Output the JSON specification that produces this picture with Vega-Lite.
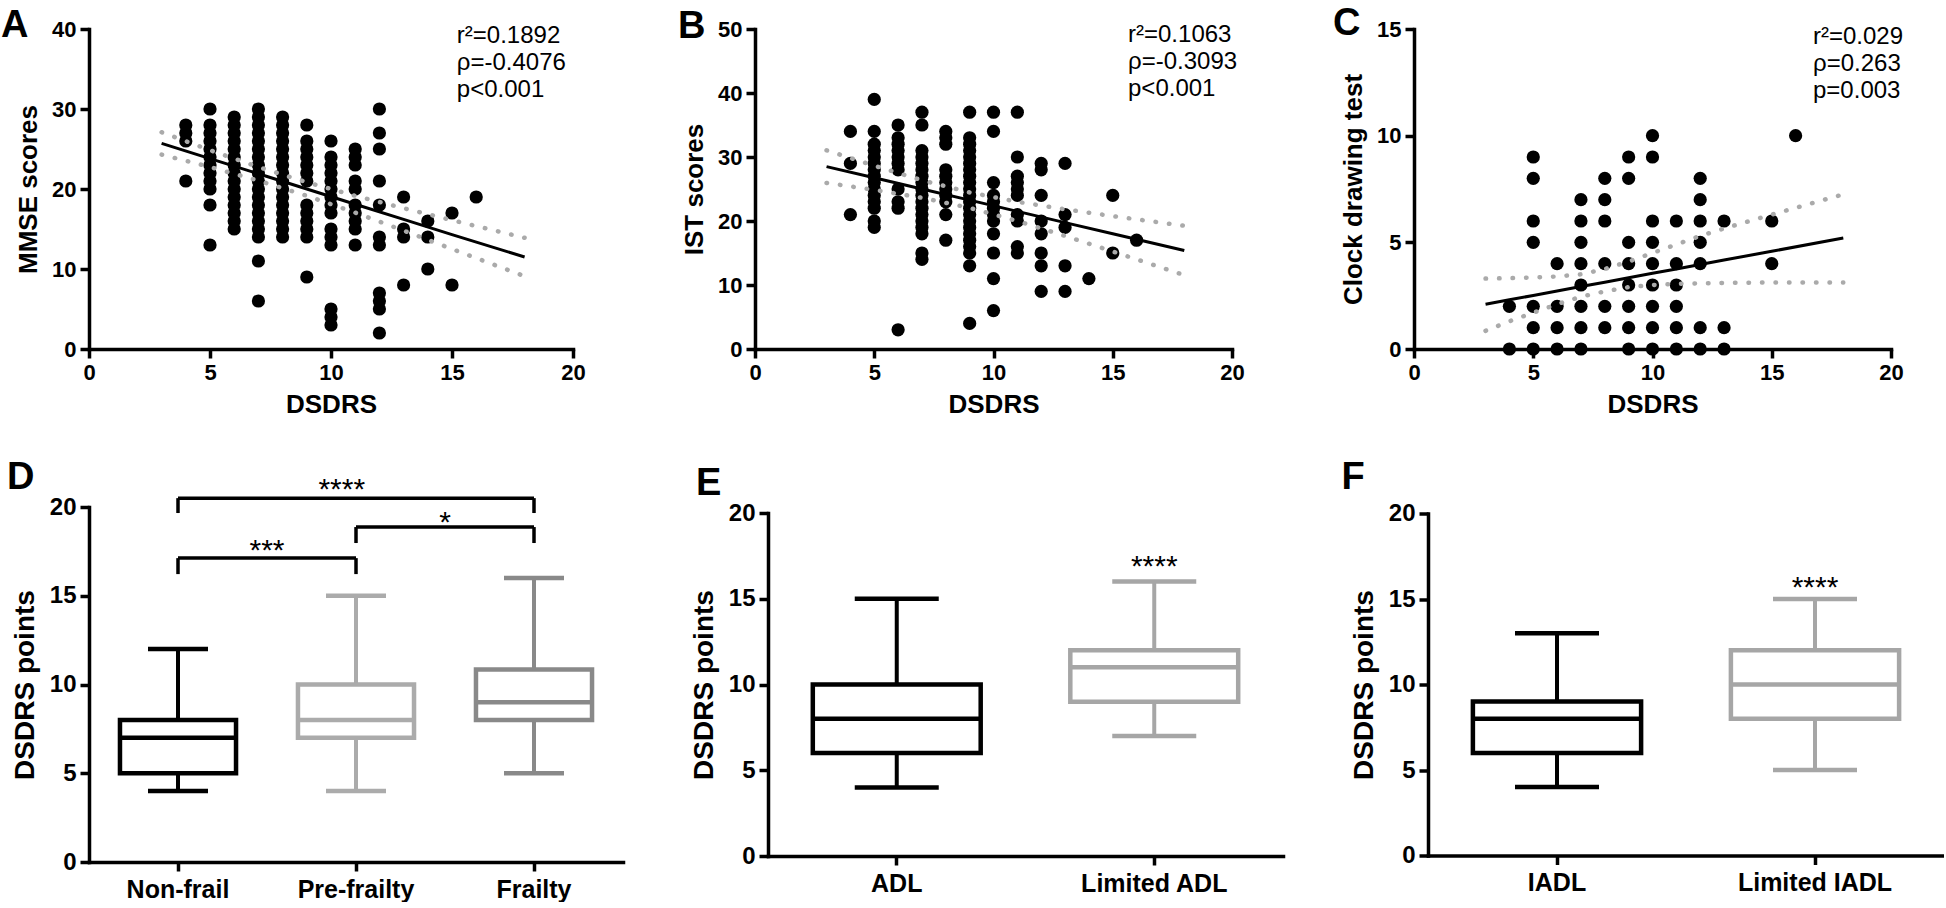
{
  "$schema": "https://vega.github.io/schema/vega-lite/v6.json",
  "background": "white",
  "padding": {"left": 0, "top": 5, "right": 0, "bottom": 0},
  "config": {
    "view": {"stroke": null},
    "font": "Liberation Sans",
    "text": {"color": "black", "font": "Liberation Sans"},
    "tick": {"opacity": 1},
    "axis": {
      "domainColor": "black", "domainWidth": 3.5, "domainCap": "square",
      "tickColor": "black", "tickWidth": 3.5, "tickSize": 9, "grid": false,
      "labelColor": "black", "labelFont": "Liberation Sans", "labelFontWeight": "bold", "labelFontSize": 22, "labelPadding": 4,
      "labelFlush": false, "labelOverlap": false,
      "titleColor": "black", "titleFont": "Liberation Sans", "titleFontWeight": "bold", "titleFontSize": 26, "titlePadding": 10
    }
  },
  "datasets": {
    "A": [
      {"DSDRS":4,"score":28},{"DSDRS":4,"score":27},{"DSDRS":4,"score":26},{"DSDRS":4,"score":21},
      {"DSDRS":5,"score":30},{"DSDRS":5,"score":28},{"DSDRS":5,"score":27},{"DSDRS":5,"score":26},{"DSDRS":5,"score":25},{"DSDRS":5,"score":24},{"DSDRS":5,"score":23},{"DSDRS":5,"score":22},{"DSDRS":5,"score":21},{"DSDRS":5,"score":20},{"DSDRS":5,"score":18},{"DSDRS":5,"score":13},
      {"DSDRS":6,"score":29},{"DSDRS":6,"score":28},{"DSDRS":6,"score":27},{"DSDRS":6,"score":26},{"DSDRS":6,"score":25},{"DSDRS":6,"score":24},{"DSDRS":6,"score":23},{"DSDRS":6,"score":22},{"DSDRS":6,"score":21},{"DSDRS":6,"score":20},{"DSDRS":6,"score":19},{"DSDRS":6,"score":18},{"DSDRS":6,"score":17},{"DSDRS":6,"score":16},{"DSDRS":6,"score":15},
      {"DSDRS":7,"score":30},{"DSDRS":7,"score":29},{"DSDRS":7,"score":28},{"DSDRS":7,"score":27},{"DSDRS":7,"score":26},{"DSDRS":7,"score":25},{"DSDRS":7,"score":24},{"DSDRS":7,"score":23},{"DSDRS":7,"score":22},{"DSDRS":7,"score":21},{"DSDRS":7,"score":20},{"DSDRS":7,"score":19},{"DSDRS":7,"score":18},{"DSDRS":7,"score":17},{"DSDRS":7,"score":16},{"DSDRS":7,"score":15},{"DSDRS":7,"score":14},{"DSDRS":7,"score":11},{"DSDRS":7,"score":6},
      {"DSDRS":8,"score":29},{"DSDRS":8,"score":28},{"DSDRS":8,"score":27},{"DSDRS":8,"score":26},{"DSDRS":8,"score":25},{"DSDRS":8,"score":24},{"DSDRS":8,"score":23},{"DSDRS":8,"score":22},{"DSDRS":8,"score":21},{"DSDRS":8,"score":20},{"DSDRS":8,"score":19},{"DSDRS":8,"score":18},{"DSDRS":8,"score":17},{"DSDRS":8,"score":16},{"DSDRS":8,"score":15},{"DSDRS":8,"score":14},
      {"DSDRS":9,"score":28},{"DSDRS":9,"score":26},{"DSDRS":9,"score":25},{"DSDRS":9,"score":24},{"DSDRS":9,"score":23},{"DSDRS":9,"score":22},{"DSDRS":9,"score":21},{"DSDRS":9,"score":18},{"DSDRS":9,"score":17},{"DSDRS":9,"score":16},{"DSDRS":9,"score":15},{"DSDRS":9,"score":14},{"DSDRS":9,"score":9},
      {"DSDRS":10,"score":26},{"DSDRS":10,"score":24},{"DSDRS":10,"score":23},{"DSDRS":10,"score":22},{"DSDRS":10,"score":21},{"DSDRS":10,"score":20},{"DSDRS":10,"score":19},{"DSDRS":10,"score":18},{"DSDRS":10,"score":17},{"DSDRS":10,"score":15},{"DSDRS":10,"score":14},{"DSDRS":10,"score":13},{"DSDRS":10,"score":5},{"DSDRS":10,"score":4},{"DSDRS":10,"score":3},
      {"DSDRS":11,"score":25},{"DSDRS":11,"score":24},{"DSDRS":11,"score":23},{"DSDRS":11,"score":21},{"DSDRS":11,"score":20},{"DSDRS":11,"score":18},{"DSDRS":11,"score":17},{"DSDRS":11,"score":16},{"DSDRS":11,"score":15},{"DSDRS":11,"score":13},
      {"DSDRS":12,"score":30},{"DSDRS":12,"score":27},{"DSDRS":12,"score":25},{"DSDRS":12,"score":21},{"DSDRS":12,"score":18},{"DSDRS":12,"score":14},{"DSDRS":12,"score":13},{"DSDRS":12,"score":7},{"DSDRS":12,"score":6},{"DSDRS":12,"score":5},{"DSDRS":12,"score":2},
      {"DSDRS":13,"score":19},{"DSDRS":13,"score":15},{"DSDRS":13,"score":14},{"DSDRS":13,"score":8},
      {"DSDRS":14,"score":16},{"DSDRS":14,"score":14},{"DSDRS":14,"score":10},
      {"DSDRS":15,"score":17},{"DSDRS":15,"score":8},
      {"DSDRS":16,"score":19}
    ],
    "B": [
      {"DSDRS":4,"score":34},{"DSDRS":4,"score":29},{"DSDRS":4,"score":21},
      {"DSDRS":5,"score":39},{"DSDRS":5,"score":34},{"DSDRS":5,"score":32},{"DSDRS":5,"score":31},{"DSDRS":5,"score":30},{"DSDRS":5,"score":29},{"DSDRS":5,"score":28},{"DSDRS":5,"score":27},{"DSDRS":5,"score":26},{"DSDRS":5,"score":25},{"DSDRS":5,"score":24},{"DSDRS":5,"score":23},{"DSDRS":5,"score":22},{"DSDRS":5,"score":20},{"DSDRS":5,"score":19},
      {"DSDRS":6,"score":35},{"DSDRS":6,"score":33},{"DSDRS":6,"score":32},{"DSDRS":6,"score":31},{"DSDRS":6,"score":30},{"DSDRS":6,"score":29},{"DSDRS":6,"score":28},{"DSDRS":6,"score":25},{"DSDRS":6,"score":23},{"DSDRS":6,"score":22},{"DSDRS":6,"score":3},
      {"DSDRS":7,"score":37},{"DSDRS":7,"score":35},{"DSDRS":7,"score":31},{"DSDRS":7,"score":30},{"DSDRS":7,"score":29},{"DSDRS":7,"score":28},{"DSDRS":7,"score":27},{"DSDRS":7,"score":26},{"DSDRS":7,"score":25},{"DSDRS":7,"score":24},{"DSDRS":7,"score":23},{"DSDRS":7,"score":22},{"DSDRS":7,"score":21},{"DSDRS":7,"score":20},{"DSDRS":7,"score":19},{"DSDRS":7,"score":18},{"DSDRS":7,"score":15},{"DSDRS":7,"score":14},
      {"DSDRS":8,"score":34},{"DSDRS":8,"score":33},{"DSDRS":8,"score":32},{"DSDRS":8,"score":28},{"DSDRS":8,"score":27},{"DSDRS":8,"score":26},{"DSDRS":8,"score":25},{"DSDRS":8,"score":24},{"DSDRS":8,"score":23},{"DSDRS":8,"score":21},{"DSDRS":8,"score":17},
      {"DSDRS":9,"score":37},{"DSDRS":9,"score":33},{"DSDRS":9,"score":32},{"DSDRS":9,"score":31},{"DSDRS":9,"score":30},{"DSDRS":9,"score":29},{"DSDRS":9,"score":28},{"DSDRS":9,"score":27},{"DSDRS":9,"score":26},{"DSDRS":9,"score":25},{"DSDRS":9,"score":24},{"DSDRS":9,"score":23},{"DSDRS":9,"score":22},{"DSDRS":9,"score":21},{"DSDRS":9,"score":20},{"DSDRS":9,"score":19},{"DSDRS":9,"score":18},{"DSDRS":9,"score":17},{"DSDRS":9,"score":16},{"DSDRS":9,"score":15},{"DSDRS":9,"score":13},{"DSDRS":9,"score":4},
      {"DSDRS":10,"score":37},{"DSDRS":10,"score":34},{"DSDRS":10,"score":26},{"DSDRS":10,"score":24},{"DSDRS":10,"score":23},{"DSDRS":10,"score":22},{"DSDRS":10,"score":21},{"DSDRS":10,"score":20},{"DSDRS":10,"score":18},{"DSDRS":10,"score":15},{"DSDRS":10,"score":11},{"DSDRS":10,"score":6},
      {"DSDRS":11,"score":37},{"DSDRS":11,"score":30},{"DSDRS":11,"score":27},{"DSDRS":11,"score":26},{"DSDRS":11,"score":25},{"DSDRS":11,"score":24},{"DSDRS":11,"score":21},{"DSDRS":11,"score":20},{"DSDRS":11,"score":16},{"DSDRS":11,"score":15},
      {"DSDRS":12,"score":29},{"DSDRS":12,"score":28},{"DSDRS":12,"score":24},{"DSDRS":12,"score":20},{"DSDRS":12,"score":18},{"DSDRS":12,"score":15},{"DSDRS":12,"score":13},{"DSDRS":12,"score":9},
      {"DSDRS":13,"score":29},{"DSDRS":13,"score":21},{"DSDRS":13,"score":19},{"DSDRS":13,"score":13},{"DSDRS":13,"score":9},
      {"DSDRS":14,"score":11},
      {"DSDRS":15,"score":24},{"DSDRS":15,"score":15},
      {"DSDRS":16,"score":17}
    ],
    "C": [
      {"DSDRS":4,"score":2},{"DSDRS":4,"score":0},
      {"DSDRS":5,"score":9},{"DSDRS":5,"score":8},{"DSDRS":5,"score":6},{"DSDRS":5,"score":5},{"DSDRS":5,"score":2},{"DSDRS":5,"score":1},{"DSDRS":5,"score":0},
      {"DSDRS":6,"score":4},{"DSDRS":6,"score":2},{"DSDRS":6,"score":1},{"DSDRS":6,"score":0},
      {"DSDRS":7,"score":7},{"DSDRS":7,"score":6},{"DSDRS":7,"score":5},{"DSDRS":7,"score":4},{"DSDRS":7,"score":3},{"DSDRS":7,"score":2},{"DSDRS":7,"score":1},{"DSDRS":7,"score":0},
      {"DSDRS":8,"score":8},{"DSDRS":8,"score":7},{"DSDRS":8,"score":6},{"DSDRS":8,"score":4},{"DSDRS":8,"score":2},{"DSDRS":8,"score":1},
      {"DSDRS":9,"score":9},{"DSDRS":9,"score":8},{"DSDRS":9,"score":5},{"DSDRS":9,"score":4},{"DSDRS":9,"score":3},{"DSDRS":9,"score":2},{"DSDRS":9,"score":1},{"DSDRS":9,"score":0},
      {"DSDRS":10,"score":10},{"DSDRS":10,"score":9},{"DSDRS":10,"score":6},{"DSDRS":10,"score":5},{"DSDRS":10,"score":4},{"DSDRS":10,"score":3},{"DSDRS":10,"score":2},{"DSDRS":10,"score":1},{"DSDRS":10,"score":0},
      {"DSDRS":11,"score":6},{"DSDRS":11,"score":4},{"DSDRS":11,"score":3},{"DSDRS":11,"score":2},{"DSDRS":11,"score":1},{"DSDRS":11,"score":0},
      {"DSDRS":12,"score":8},{"DSDRS":12,"score":7},{"DSDRS":12,"score":6},{"DSDRS":12,"score":5},{"DSDRS":12,"score":4},{"DSDRS":12,"score":1},{"DSDRS":12,"score":0},
      {"DSDRS":13,"score":6},{"DSDRS":13,"score":1},{"DSDRS":13,"score":0},
      {"DSDRS":15,"score":6},{"DSDRS":15,"score":4},
      {"DSDRS":16,"score":10}
    ],
    "fitA": [
      {"DSDRS":3,"fit":25.7,"upper":27.1,"lower":24.3},
      {"DSDRS":5,"fit":23.8,"upper":24.85,"lower":22.75},
      {"DSDRS":7,"fit":21.9,"upper":22.75,"lower":21.05},
      {"DSDRS":9,"fit":20.0,"upper":20.85,"lower":19.15},
      {"DSDRS":11,"fit":18.1,"upper":19.15,"lower":17.05},
      {"DSDRS":13,"fit":16.2,"upper":17.6,"lower":14.8},
      {"DSDRS":15,"fit":14.3,"upper":16.1,"lower":12.5},
      {"DSDRS":18,"fit":11.5,"upper":13.9,"lower":9.1}
    ],
    "fitB": [
      {"DSDRS":3,"fit":28.5,"upper":31.05,"lower":25.95},
      {"DSDRS":5,"fit":26.75,"upper":28.64,"lower":24.86},
      {"DSDRS":7,"fit":25.0,"upper":26.37,"lower":23.63},
      {"DSDRS":9,"fit":23.26,"upper":24.47,"lower":22.05},
      {"DSDRS":11,"fit":21.5,"upper":23.0,"lower":20.0},
      {"DSDRS":13,"fit":19.75,"upper":21.83,"lower":17.67},
      {"DSDRS":15,"fit":18.0,"upper":20.76,"lower":15.24},
      {"DSDRS":18,"fit":15.4,"upper":19.26,"lower":11.54}
    ],
    "fitC": [
      {"DSDRS":3,"fit":2.1,"upper":3.3,"lower":0.85},
      {"DSDRS":4,"fit":2.31,"upper":3.32,"lower":1.3},
      {"DSDRS":5,"fit":2.51,"upper":3.35,"lower":1.7},
      {"DSDRS":6,"fit":2.72,"upper":3.4,"lower":2.1},
      {"DSDRS":7,"fit":2.93,"upper":3.5,"lower":2.45},
      {"DSDRS":8,"fit":3.13,"upper":3.75,"lower":2.7},
      {"DSDRS":9,"fit":3.34,"upper":4.1,"lower":2.9},
      {"DSDRS":10,"fit":3.55,"upper":4.5,"lower":3.0},
      {"DSDRS":11,"fit":3.75,"upper":4.9,"lower":3.05},
      {"DSDRS":12,"fit":3.96,"upper":5.3,"lower":3.08},
      {"DSDRS":13,"fit":4.17,"upper":5.65,"lower":3.1},
      {"DSDRS":15,"fit":4.58,"upper":6.3,"lower":3.12},
      {"DSDRS":18,"fit":5.2,"upper":7.25,"lower":3.12}
    ],
    "D": [
      {"group":"Non-frail","min":4,"q1":5,"median":7,"q3":8,"max":12},
      {"group":"Pre-frailty","min":4,"q1":7,"median":8,"q3":10,"max":15},
      {"group":"Frailty","min":5,"q1":8,"median":9,"q3":10.85,"max":16}
    ],
    "E": [
      {"group":"ADL","min":4,"q1":6,"median":8,"q3":10,"max":15},
      {"group":"Limited ADL","min":7,"q1":9,"median":11,"q3":12,"max":16}
    ],
    "F": [
      {"group":"IADL","min":4,"q1":6,"median":8,"q3":9,"max":13},
      {"group":"Limited IADL","min":5,"q1":8,"median":10,"q3":12,"max":15}
    ]
  },
  "spacing": 41,
  "bounds": "full",
  "resolve": {"scale": {"color": "independent", "stroke": "independent"}},
  "vconcat": [
    {
      "hconcat": [
        {
          "width": 484, "height": 320,
          "layer": [
            {"data": {"name": "A"}, "mark": {"type": "point", "filled": true, "size": 175, "color": "black", "opacity": 1},
             "encoding": {
               "x": {"field": "DSDRS", "type": "quantitative", "scale": {"domain": [0, 20], "nice": false}, "axis": {"values": [0, 5, 10, 15, 20], "title": "DSDRS", "titlePadding": 8}},
               "y": {"field": "score", "type": "quantitative", "scale": {"domain": [0, 40], "nice": false}, "axis": {"values": [0, 10, 20, 30, 40], "title": "MMSE scores"}}}},
            {"data": {"name": "fitA"}, "mark": {"type": "line", "color": "#aaaaaa", "strokeWidth": 4.5, "strokeDash": [0.5, 13], "strokeCap": "round"},
             "encoding": {"x": {"field": "DSDRS", "type": "quantitative"}, "y": {"field": "upper", "type": "quantitative"}}},
            {"data": {"name": "fitA"}, "mark": {"type": "line", "color": "#aaaaaa", "strokeWidth": 4.5, "strokeDash": [0.5, 13], "strokeCap": "round"},
             "encoding": {"x": {"field": "DSDRS", "type": "quantitative"}, "y": {"field": "lower", "type": "quantitative"}}},
            {"data": {"name": "fitA"}, "mark": {"type": "line", "color": "black", "strokeWidth": 3},
             "encoding": {"x": {"field": "DSDRS", "type": "quantitative"}, "y": {"field": "fit", "type": "quantitative"}}},
            {"data": {"values": [{}]}, "mark": {"type": "text", "align": "left", "baseline": "alphabetic", "fontSize": 24, "text": "r²=0.1892"},
             "encoding": {"x": {"datum": 15.2}, "y": {"datum": 38.25}}},
            {"data": {"values": [{}]}, "mark": {"type": "text", "align": "left", "baseline": "alphabetic", "fontSize": 24, "text": "ρ=-0.4076"},
             "encoding": {"x": {"datum": 15.2}, "y": {"datum": 34.87}}},
            {"data": {"values": [{}]}, "mark": {"type": "text", "align": "left", "baseline": "alphabetic", "fontSize": 24, "text": "p<0.001"},
             "encoding": {"x": {"datum": 15.2}, "y": {"datum": 31.5}}},
            {"data": {"values": [{}]}, "mark": {"type": "text", "align": "left", "baseline": "alphabetic", "fontSize": 38, "fontWeight": "bold", "text": "A"},
             "encoding": {"x": {"datum": -3.64}, "y": {"datum": 39}}}
          ]
        },
        {
          "width": 477, "height": 320,
          "layer": [
            {"data": {"name": "B"}, "mark": {"type": "point", "filled": true, "size": 175, "color": "black", "opacity": 1},
             "encoding": {
               "x": {"field": "DSDRS", "type": "quantitative", "scale": {"domain": [0, 20], "nice": false}, "axis": {"values": [0, 5, 10, 15, 20], "title": "DSDRS", "titlePadding": 8}},
               "y": {"field": "score", "type": "quantitative", "scale": {"domain": [0, 50], "nice": false}, "axis": {"values": [0, 10, 20, 30, 40, 50], "title": "IST scores"}}}},
            {"data": {"name": "fitB"}, "mark": {"type": "line", "color": "#aaaaaa", "strokeWidth": 4.5, "strokeDash": [0.5, 13], "strokeCap": "round"},
             "encoding": {"x": {"field": "DSDRS", "type": "quantitative"}, "y": {"field": "upper", "type": "quantitative"}}},
            {"data": {"name": "fitB"}, "mark": {"type": "line", "color": "#aaaaaa", "strokeWidth": 4.5, "strokeDash": [0.5, 13], "strokeCap": "round"},
             "encoding": {"x": {"field": "DSDRS", "type": "quantitative"}, "y": {"field": "lower", "type": "quantitative"}}},
            {"data": {"name": "fitB"}, "mark": {"type": "line", "color": "black", "strokeWidth": 3},
             "encoding": {"x": {"field": "DSDRS", "type": "quantitative"}, "y": {"field": "fit", "type": "quantitative"}}},
            {"data": {"values": [{}]}, "mark": {"type": "text", "align": "left", "baseline": "alphabetic", "fontSize": 24, "text": "r²=0.1063"},
             "encoding": {"x": {"datum": 15.64}, "y": {"datum": 47.9}}},
            {"data": {"values": [{}]}, "mark": {"type": "text", "align": "left", "baseline": "alphabetic", "fontSize": 24, "text": "ρ=-0.3093"},
             "encoding": {"x": {"datum": 15.64}, "y": {"datum": 43.68}}},
            {"data": {"values": [{}]}, "mark": {"type": "text", "align": "left", "baseline": "alphabetic", "fontSize": 24, "text": "p<0.001"},
             "encoding": {"x": {"datum": 15.64}, "y": {"datum": 39.46}}},
            {"data": {"values": [{}]}, "mark": {"type": "text", "align": "left", "baseline": "alphabetic", "fontSize": 38, "fontWeight": "bold", "text": "B"},
             "encoding": {"x": {"datum": -3.23}, "y": {"datum": 48.6}}}
          ]
        },
        {
          "width": 477, "height": 320,
          "layer": [
            {"data": {"name": "C"}, "mark": {"type": "point", "filled": true, "size": 175, "color": "black", "opacity": 1},
             "encoding": {
               "x": {"field": "DSDRS", "type": "quantitative", "scale": {"domain": [0, 20], "nice": false}, "axis": {"values": [0, 5, 10, 15, 20], "title": "DSDRS", "titlePadding": 8}},
               "y": {"field": "score", "type": "quantitative", "scale": {"domain": [0, 15], "nice": false}, "axis": {"values": [0, 5, 10, 15], "title": "Clock drawing test"}}}},
            {"data": {"name": "fitC"}, "mark": {"type": "line", "color": "#aaaaaa", "strokeWidth": 4.5, "strokeDash": [0.5, 13], "strokeCap": "round"},
             "encoding": {"x": {"field": "DSDRS", "type": "quantitative"}, "y": {"field": "upper", "type": "quantitative"}}},
            {"data": {"name": "fitC"}, "mark": {"type": "line", "color": "#aaaaaa", "strokeWidth": 4.5, "strokeDash": [0.5, 13], "strokeCap": "round"},
             "encoding": {"x": {"field": "DSDRS", "type": "quantitative"}, "y": {"field": "lower", "type": "quantitative"}}},
            {"data": {"name": "fitC"}, "mark": {"type": "line", "color": "black", "strokeWidth": 3},
             "encoding": {"x": {"field": "DSDRS", "type": "quantitative"}, "y": {"field": "fit", "type": "quantitative"}}},
            {"data": {"values": [{}]}, "mark": {"type": "text", "align": "left", "baseline": "alphabetic", "fontSize": 24, "text": "r²=0.029"},
             "encoding": {"x": {"datum": 16.73}, "y": {"datum": 14.29}}},
            {"data": {"values": [{}]}, "mark": {"type": "text", "align": "left", "baseline": "alphabetic", "fontSize": 24, "text": "ρ=0.263"},
             "encoding": {"x": {"datum": 16.73}, "y": {"datum": 13.02}}},
            {"data": {"values": [{}]}, "mark": {"type": "text", "align": "left", "baseline": "alphabetic", "fontSize": 24, "text": "p=0.003"},
             "encoding": {"x": {"datum": 16.73}, "y": {"datum": 11.76}}},
            {"data": {"values": [{}]}, "mark": {"type": "text", "align": "left", "baseline": "alphabetic", "fontSize": 38, "fontWeight": "bold", "text": "C"},
             "encoding": {"x": {"datum": -3.4}, "y": {"datum": 14.7}}}
          ]
        }
      ],
      "spacing": 182,
      "bounds": "flush"
    },
    {
      "hconcat": [
        {
          "width": 534, "height": 355,
          "layer": [
            {"data": {"name": "D"}, "mark": {"type": "rule", "strokeWidth": 4},
             "encoding": {
               "x": {"field": "group", "type": "nominal", "scale": {"domain": ["Non-frail", "Pre-frailty", "Frailty"], "paddingInner": 0, "paddingOuter": 0}, "axis": {"title": null, "labelFontSize": 25, "labelAngle": 0, "labelPadding": 6}},
               "y": {"field": "min", "type": "quantitative", "scale": {"domain": [0, 20], "nice": false}, "axis": {"values": [0, 5, 10, 15, 20], "title": "DSDRS points", "labelFontSize": 24, "titleFontSize": 28, "titlePadding": 10}},
               "y2": {"field": "max"},
               "color": {"field": "group", "type": "nominal", "scale": {"domain": ["Non-frail", "Pre-frailty", "Frailty"], "range": ["#000000", "#ababab", "#898989"]}, "legend": null}}},
            {"data": {"name": "D"}, "mark": {"type": "bar", "width": {"band": 0.652}, "fill": "white", "strokeWidth": 4.5},
             "encoding": {
               "x": {"field": "group", "type": "nominal"},
               "y": {"field": "q1", "type": "quantitative"}, "y2": {"field": "q3"},
               "stroke": {"field": "group", "type": "nominal", "scale": {"domain": ["Non-frail", "Pre-frailty", "Frailty"], "range": ["#000000", "#ababab", "#898989"]}, "legend": null}}},
            {"data": {"name": "D"}, "mark": {"type": "tick", "size": 118, "thickness": 4.5, "opacity": 1},
             "encoding": {"x": {"field": "group", "type": "nominal"}, "y": {"field": "median", "type": "quantitative"}, "color": {"field": "group", "type": "nominal", "legend": null}}},
            {"data": {"name": "D"}, "mark": {"type": "tick", "size": 60, "thickness": 4.5, "opacity": 1},
             "encoding": {"x": {"field": "group", "type": "nominal"}, "y": {"field": "min", "type": "quantitative"}, "color": {"field": "group", "type": "nominal", "legend": null}}},
            {"data": {"name": "D"}, "mark": {"type": "tick", "size": 60, "thickness": 4.5, "opacity": 1},
             "encoding": {"x": {"field": "group", "type": "nominal"}, "y": {"field": "max", "type": "quantitative"}, "color": {"field": "group", "type": "nominal", "legend": null}}},
            {"data": {"values": [
               {"g1": "Non-frail", "g2": "Frailty", "top": 20.5, "drop": 19.66},
               {"g1": "Pre-frailty", "g2": "Frailty", "top": 18.87, "drop": 17.97},
               {"g1": "Non-frail", "g2": "Pre-frailty", "top": 17.12, "drop": 16.22}]},
             "layer": [
               {"mark": {"type": "rule", "strokeWidth": 3.5, "color": "black"},
                "encoding": {"x": {"field": "g1", "type": "nominal", "bandPosition": 0.5}, "x2": {"field": "g2", "bandPosition": 0.5}, "y": {"field": "top", "type": "quantitative"}}},
               {"mark": {"type": "rule", "strokeWidth": 3.5, "color": "black"},
                "encoding": {"x": {"field": "g1", "type": "nominal", "bandPosition": 0.5}, "y": {"field": "top", "type": "quantitative"}, "y2": {"field": "drop"}}},
               {"mark": {"type": "rule", "strokeWidth": 3.5, "color": "black"},
                "encoding": {"x": {"field": "g2", "type": "nominal", "bandPosition": 0.5}, "y": {"field": "top", "type": "quantitative"}, "y2": {"field": "drop"}}}
             ]},
            {"data": {"values": [{"pos": "Pre-frailty", "label": "****", "y": 20.45}]},
             "mark": {"type": "text", "baseline": "alphabetic", "align": "center", "fontSize": 30},
             "encoding": {"x": {"field": "pos", "type": "nominal", "bandPosition": 0.42}, "y": {"field": "y", "type": "quantitative"}, "text": {"field": "label"}}},
            {"data": {"values": [{"pos": "Pre-frailty", "label": "***", "y": 17.0}, {"pos": "Frailty", "label": "*", "y": 18.6}]},
             "mark": {"type": "text", "baseline": "alphabetic", "align": "center", "fontSize": 30},
             "encoding": {"x": {"field": "pos", "type": "nominal", "bandPosition": 0}, "y": {"field": "y", "type": "quantitative"}, "text": {"field": "label"}}},
            {"data": {"values": [{"pos": "Non-frail", "label": "D", "y": 21.0}]},
             "mark": {"type": "text", "baseline": "alphabetic", "align": "left", "fontSize": 38, "fontWeight": "bold"},
             "encoding": {"x": {"field": "pos", "type": "nominal", "bandPosition": -0.46}, "y": {"field": "y", "type": "quantitative"}, "text": {"field": "label"}}}
          ]
        },
        {
          "width": 515, "height": 343,
          "layer": [
            {"data": {"name": "E"}, "mark": {"type": "rule", "strokeWidth": 4},
             "encoding": {
               "x": {"field": "group", "type": "nominal", "scale": {"domain": ["ADL", "Limited ADL"], "paddingInner": 0, "paddingOuter": 0}, "axis": {"title": null, "labelFontSize": 25, "labelAngle": 0, "labelPadding": 6}},
               "y": {"field": "min", "type": "quantitative", "scale": {"domain": [0, 20], "nice": false}, "axis": {"values": [0, 5, 10, 15, 20], "title": "DSDRS points", "labelFontSize": 24, "titleFontSize": 28, "titlePadding": 10}},
               "y2": {"field": "max"},
               "color": {"field": "group", "type": "nominal", "scale": {"domain": ["ADL", "Limited ADL"], "range": ["#000000", "#a6a6a6"]}, "legend": null}}},
            {"data": {"name": "E"}, "mark": {"type": "bar", "width": {"band": 0.652}, "fill": "white", "strokeWidth": 4.5},
             "encoding": {
               "x": {"field": "group", "type": "nominal"},
               "y": {"field": "q1", "type": "quantitative"}, "y2": {"field": "q3"},
               "stroke": {"field": "group", "type": "nominal", "scale": {"domain": ["ADL", "Limited ADL"], "range": ["#000000", "#a6a6a6"]}, "legend": null}}},
            {"data": {"name": "E"}, "mark": {"type": "tick", "size": 170, "thickness": 4.5, "opacity": 1},
             "encoding": {"x": {"field": "group", "type": "nominal"}, "y": {"field": "median", "type": "quantitative"}, "color": {"field": "group", "type": "nominal", "legend": null}}},
            {"data": {"name": "E"}, "mark": {"type": "tick", "size": 84, "thickness": 4.5, "opacity": 1},
             "encoding": {"x": {"field": "group", "type": "nominal"}, "y": {"field": "min", "type": "quantitative"}, "color": {"field": "group", "type": "nominal", "legend": null}}},
            {"data": {"name": "E"}, "mark": {"type": "tick", "size": 84, "thickness": 4.5, "opacity": 1},
             "encoding": {"x": {"field": "group", "type": "nominal"}, "y": {"field": "max", "type": "quantitative"}, "color": {"field": "group", "type": "nominal", "legend": null}}},
            {"data": {"values": [{"pos": "Limited ADL", "label": "****", "y": 16.3}]},
             "mark": {"type": "text", "baseline": "alphabetic", "align": "center", "fontSize": 30},
             "encoding": {"x": {"field": "pos", "type": "nominal", "bandPosition": 0.5}, "y": {"field": "y", "type": "quantitative"}, "text": {"field": "label"}}},
            {"data": {"values": [{"pos": "ADL", "label": "E", "y": 21.03}]},
             "mark": {"type": "text", "baseline": "alphabetic", "align": "left", "fontSize": 38, "fontWeight": "bold"},
             "encoding": {"x": {"field": "pos", "type": "nominal", "bandPosition": -0.28}, "y": {"field": "y", "type": "quantitative"}, "text": {"field": "label"}}}
          ]
        },
        {
          "width": 516, "height": 342,
          "layer": [
            {"data": {"name": "F"}, "mark": {"type": "rule", "strokeWidth": 4},
             "encoding": {
               "x": {"field": "group", "type": "nominal", "scale": {"domain": ["IADL", "Limited IADL"], "paddingInner": 0, "paddingOuter": 0}, "axis": {"title": null, "labelFontSize": 25, "labelAngle": 0, "labelPadding": 6}},
               "y": {"field": "min", "type": "quantitative", "scale": {"domain": [0, 20], "nice": false}, "axis": {"values": [0, 5, 10, 15, 20], "title": "DSDRS points", "labelFontSize": 24, "titleFontSize": 28, "titlePadding": 10}},
               "y2": {"field": "max"},
               "color": {"field": "group", "type": "nominal", "scale": {"domain": ["IADL", "Limited IADL"], "range": ["#000000", "#a6a6a6"]}, "legend": null}}},
            {"data": {"name": "F"}, "mark": {"type": "bar", "width": {"band": 0.652}, "fill": "white", "strokeWidth": 4.5},
             "encoding": {
               "x": {"field": "group", "type": "nominal"},
               "y": {"field": "q1", "type": "quantitative"}, "y2": {"field": "q3"},
               "stroke": {"field": "group", "type": "nominal", "scale": {"domain": ["IADL", "Limited IADL"], "range": ["#000000", "#a6a6a6"]}, "legend": null}}},
            {"data": {"name": "F"}, "mark": {"type": "tick", "size": 170, "thickness": 4.5, "opacity": 1},
             "encoding": {"x": {"field": "group", "type": "nominal"}, "y": {"field": "median", "type": "quantitative"}, "color": {"field": "group", "type": "nominal", "legend": null}}},
            {"data": {"name": "F"}, "mark": {"type": "tick", "size": 84, "thickness": 4.5, "opacity": 1},
             "encoding": {"x": {"field": "group", "type": "nominal"}, "y": {"field": "min", "type": "quantitative"}, "color": {"field": "group", "type": "nominal", "legend": null}}},
            {"data": {"name": "F"}, "mark": {"type": "tick", "size": 84, "thickness": 4.5, "opacity": 1},
             "encoding": {"x": {"field": "group", "type": "nominal"}, "y": {"field": "max", "type": "quantitative"}, "color": {"field": "group", "type": "nominal", "legend": null}}},
            {"data": {"values": [{"pos": "Limited IADL", "label": "****", "y": 15.1}]},
             "mark": {"type": "text", "baseline": "alphabetic", "align": "center", "fontSize": 30},
             "encoding": {"x": {"field": "pos", "type": "nominal", "bandPosition": 0.5}, "y": {"field": "y", "type": "quantitative"}, "text": {"field": "label"}}},
            {"data": {"values": [{"pos": "IADL", "label": "F", "y": 21.44}]},
             "mark": {"type": "text", "baseline": "alphabetic", "align": "left", "fontSize": 38, "fontWeight": "bold"},
             "encoding": {"x": {"field": "pos", "type": "nominal", "bandPosition": -0.335}, "y": {"field": "y", "type": "quantitative"}, "text": {"field": "label"}}}
          ]
        }
      ],
      "spacing": 145,
      "bounds": "flush",
      "center": true,
      "resolve": {"scale": {"color": "independent", "stroke": "independent"}}
    }
  ]
}
